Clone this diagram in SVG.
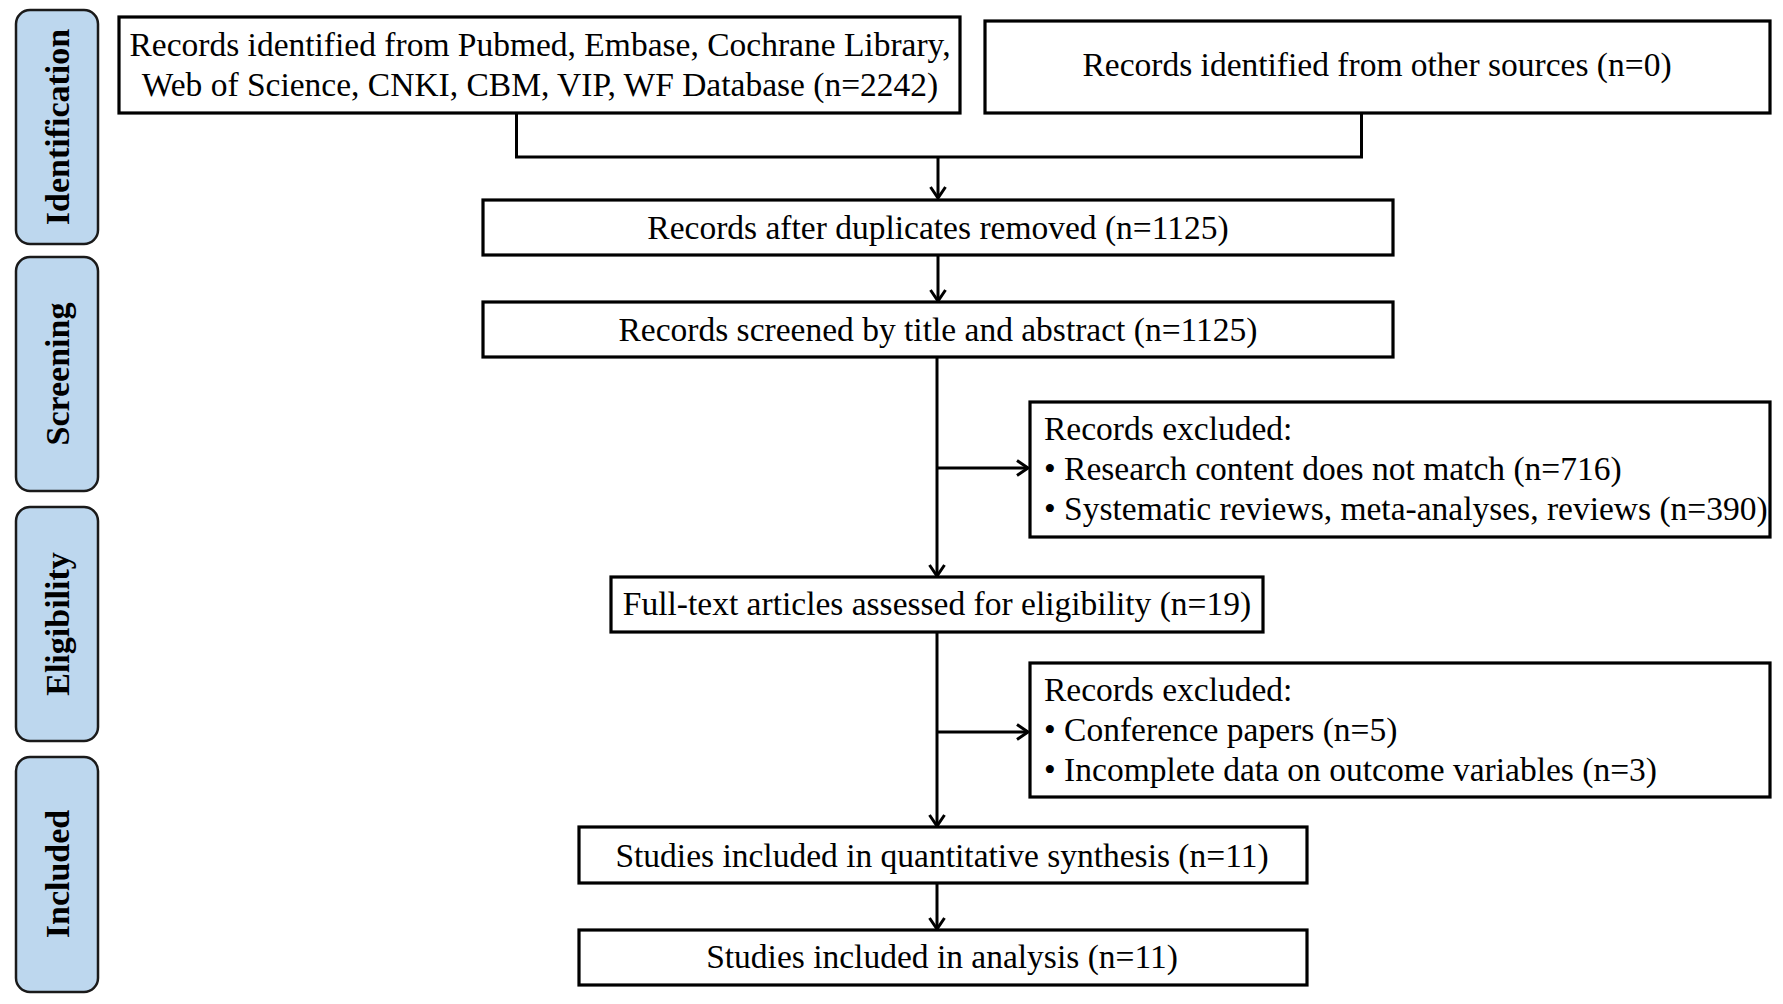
<svg xmlns="http://www.w3.org/2000/svg" width="1783" height="1004" viewBox="0 0 1783 1004">
<defs>
<marker id="arr" markerUnits="userSpaceOnUse" markerWidth="22" markerHeight="22" refX="13" refY="9" orient="auto">
<path d="M2,1.5 L13,9 L2,16.5" fill="none" stroke="#000" stroke-width="3"/>
</marker>
<style>
.phase{fill:#bdd7ee;stroke:#1a1a1a;stroke-width:2.5}
.ptxt{font-family:"Liberation Serif","Times New Roman",serif;font-weight:bold;font-size:34px;fill:#000;text-anchor:middle}
.box{fill:#fff;stroke:#000;stroke-width:3.2}
.t{font-family:"Liberation Serif","Times New Roman",serif;font-size:33.5px;fill:#000}
.c{text-anchor:middle}
.ln{fill:none;stroke:#000;stroke-width:3}
</style>
</defs>
<rect width="1783" height="1004" fill="#fff"/>
<g id="phase-identification"><rect class="phase" x="16" y="10" width="82" height="234" rx="14"/><text class="ptxt" transform="translate(69,127) rotate(-90)">Identification</text></g>
<g id="phase-screening"><rect class="phase" x="16" y="257" width="82" height="234" rx="14"/><text class="ptxt" transform="translate(69,374) rotate(-90)">Screening</text></g>
<g id="phase-eligibility"><rect class="phase" x="16" y="507" width="82" height="234" rx="14"/><text class="ptxt" transform="translate(69,624) rotate(-90)">Eligibility</text></g>
<g id="phase-included"><rect class="phase" x="16" y="757" width="82" height="235" rx="14"/><text class="ptxt" transform="translate(69,874) rotate(-90)">Included</text></g>

<g id="connectors">
<path class="ln" d="M516.5,113 V157 H1361.5 V113"/>
<path class="ln" d="M938,157 V198" marker-end="url(#arr)"/>
<path class="ln" d="M938,255 V301" marker-end="url(#arr)"/>
<path class="ln" d="M937,357 V576" marker-end="url(#arr)"/>
<path class="ln" d="M937,468 H1028" marker-end="url(#arr)"/>
<path class="ln" d="M937,632 V826" marker-end="url(#arr)"/>
<path class="ln" d="M937,732 H1028" marker-end="url(#arr)"/>
<path class="ln" d="M937,883 V929" marker-end="url(#arr)"/>
</g>

<g id="n-db"><rect class="box" x="119" y="17" width="841" height="96"/>
<text class="t c" x="540" y="56">Records identified from Pubmed, Embase, Cochrane Library,</text>
<text class="t c" x="540" y="96">Web of Science, CNKI, CBM, VIP, WF Database (n=2242)</text></g>
<g id="n-other"><rect class="box" x="985" y="21" width="785" height="92"/>
<text class="t c" x="1377" y="76">Records identified from other sources (n=0)</text></g>
<g id="n-dup"><rect class="box" x="483" y="200" width="910" height="55"/>
<text class="t c" x="938" y="239">Records after duplicates removed (n=1125)</text></g>
<g id="n-screen"><rect class="box" x="483" y="302" width="910" height="55"/>
<text class="t c" x="938" y="341">Records screened by title and abstract (n=1125)</text></g>
<g id="n-excl1"><rect class="box" x="1030" y="402" width="740" height="135"/>
<text class="t" x="1044" y="440">Records excluded:</text>
<text class="t" x="1044" y="480">• Research content does not match (n=716)</text>
<text class="t" x="1044" y="520">• Systematic reviews, meta-analyses, reviews (n=390)</text></g>
<g id="n-full"><rect class="box" x="611" y="577" width="652" height="55"/>
<text class="t c" x="937" y="615">Full-text articles assessed for eligibility (n=19)</text></g>
<g id="n-excl2"><rect class="box" x="1030" y="663" width="740" height="134"/>
<text class="t" x="1044" y="701">Records excluded:</text>
<text class="t" x="1044" y="741">• Conference papers (n=5)</text>
<text class="t" x="1044" y="781">• Incomplete data on outcome variables (n=3)</text></g>
<g id="n-quant"><rect class="box" x="579" y="827" width="728" height="56"/>
<text class="t c" x="942" y="867">Studies included in quantitative synthesis (n=11)</text></g>
<g id="n-anal"><rect class="box" x="579" y="930" width="728" height="55"/>
<text class="t c" x="942" y="968">Studies included in analysis (n=11)</text></g>
</svg>
